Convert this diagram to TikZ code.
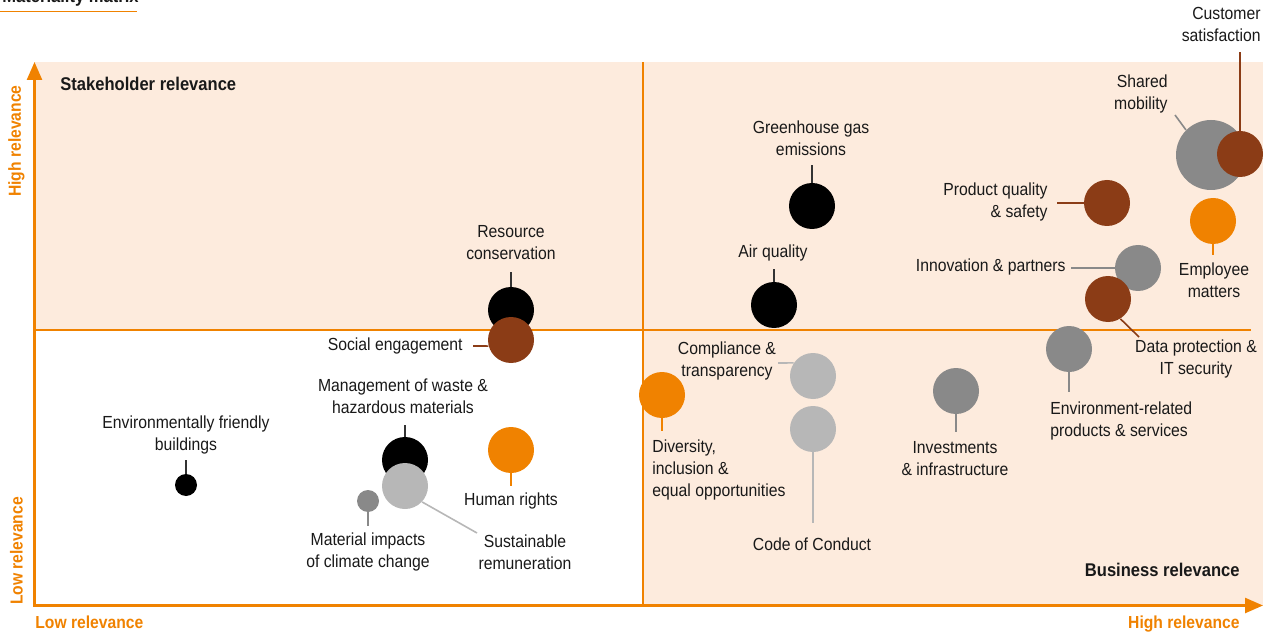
\documentclass[tikz,border=0pt]{standalone}
\usepackage{fontspec}
\setmainfont{Liberation Sans}[FakeStretch=0.9]
\usepackage{xcolor}
\usepackage{tikz}
\usetikzlibrary{arrows.meta}
\definecolor{mxorange}{RGB}{240,130,0}
\definecolor{mxbrown}{RGB}{139,60,22}
\definecolor{mxgray}{RGB}{137,137,137}
\definecolor{mxlight}{RGB}{183,183,183}
\definecolor{mxpeach}{RGB}{253,235,221}

\begin{document}
\begin{tikzpicture}[x=0.5pt,y=-0.5pt,
    bub/.style={circle,inner sep=0pt,minimum size=23pt},
    small/.style={bub,minimum size=11pt},
    ln/.style={line width=0.8pt},
    lab/.style={inner sep=0pt,text=black!90,font=\fontsize{8.75}{11}\selectfont},
    ttl/.style={inner sep=0pt,text=black!90,font=\bfseries\fontsize{9.2}{11}\selectfont},
    axlab/.style={inner sep=0pt,text=mxorange,font=\bfseries\fontsize{8.7}{11}\selectfont},
    axis/.style={mxorange,line width=1.25pt,-{Triangle[length=9pt,width=7.5pt]}},
    mid/.style={mxorange,line width=0.65pt}]
    \useasboundingbox (0,0) rectangle (1274,636);
    \fill[mxpeach] (35,62) rectangle (1263,330);
    \fill[mxpeach] (643,330) rectangle (1263,605);
    \node[ttl,anchor=base west] (ttl) at (2,2.5) {Materiality matrix};
    \draw[mid] (0,11.5) -- (137,11.5);
    \draw[mid] (34.5,330) -- (1251,330);
    \draw[mid] (643,62) -- (643,605.5);
    \draw[axis] (34.5,606.5) -- (34.5,62);
    \draw[axis] (33.5,605.5) -- (1263,605.5);
    \node[ttl,anchor=west] (sh) at (60,84) {Stakeholder relevance};
    \node[ttl,anchor=east] (br) at (1240,570) {Business relevance};
    \node[axlab,rotate=90] (yhi) at (16.5,141) {High relevance};
    \node[axlab,rotate=90] (ylo) at (16.5,551) {Low relevance};
    \node[axlab,anchor=west] (xlo) at (35,622) {Low relevance};
    \node[axlab,anchor=east] (xhi) at (1240,624) {High relevance};

    \node[bub,fill=mxgray,minimum size=35pt] (2) at (1211,155) {};
    \node[bub,fill=mxbrown] (1) at (1240,154) {};
    \node[bub,fill=mxbrown] (3) at (1107,203) {};
    \node[bub,fill=mxorange] (4) at (1213,221) {};
    \node[bub,fill=mxgray] (5) at (1138,268) {};
    \node[bub,fill=mxbrown] (6) at (1108,299) {};
    \node[bub,fill=mxgray] (7) at (1069,349) {};
    \node[bub,fill=black] (8) at (812,206) {};
    \node[bub,fill=black] (9) at (774,305) {};
    \node[bub,fill=black] (10) at (511,310) {};
    \node[bub,fill=mxbrown] (11) at (511,340) {};
    \node[bub,fill=black] (12) at (405,460) {};
    \node[bub,fill=mxlight] (13) at (405,486) {};
    \node[small,fill=mxgray] (14) at (368,501) {};
    \node[bub,fill=mxorange] (15) at (511,450) {};
    \node[small,fill=black] (16) at (186,485) {};
    \node[bub,fill=mxorange] (17) at (662,395) {};
    \node[bub,fill=mxlight] (18) at (813,376) {};
    \node[bub,fill=mxlight] (19) at (813,429) {};
    \node[bub,fill=mxgray] (20) at (956,391) {};

    \node[lab,anchor=east,align=right] (l1) at (1261,24.5) {Customer\\satisfaction};
    \node[lab,anchor=east,align=right] (l2) at (1168,94) {Shared\\mobility};
    \node[lab,anchor=east,align=right] (l3) at (1048,202) {Product quality\\\& safety};
    \node[lab,align=center] (l4) at (1214,280) {Employee\\matters};
    \node[lab,anchor=east] (l5) at (1066,267) {Innovation \& partners};
    \node[lab,align=center] (l6) at (1196,359) {Data protection \&\\IT security};
    \node[lab,anchor=west,align=left] (l7) at (1050,421) {Environment-related\\products \& services};
    \node[lab,align=center] (l8) at (811,138) {Greenhouse gas\\emissions};
    \node[lab] (l9) at (773,253) {Air quality};
    \node[lab,align=center] (l10) at (511,243) {Resource\\conservation};
    \node[lab,anchor=east] (l11) at (463,346) {Social engagement};
    \node[lab,align=center] (l12) at (403,396) {Management of waste \&\\hazardous materials};
    \node[lab,align=center] (l13) at (525,552) {Sustainable\\remuneration};
    \node[lab,align=center] (l14) at (368,552) {Material impacts\\of climate change};
    \node[lab] (l15) at (511,501) {Human rights};
    \node[lab,align=center] (l16) at (186,435) {Environmentally friendly\\buildings};
    \node[lab,anchor=west,align=left] (l17) at (652,470) {Diversity,\\inclusion \&\\equal opportunities};
    \node[lab,align=center] (l18) at (727,361) {Compliance \&\\transparency};
    \node[lab] (l19) at (812,544) {Code of Conduct};
    \node[lab,align=center] (l20) at (955,459) {Investments\\\& infrastructure};

    \coordinate (c1) at (1240,52);
    \coordinate (c2) at (1175,115);
    \coordinate (c3) at (1057,203);
    \coordinate (c4) at (1213,255);
    \coordinate (c5) at (1071,268);
    \coordinate (c6) at (1139,337);
    \coordinate (c7) at (1069,392);
    \coordinate (c8) at (812,165);
    \coordinate (c9) at (774,269);
    \coordinate (c10) at (511,272);
    \coordinate (c11) at (473,346);
    \coordinate (c12) at (405,425);
    \coordinate (c13) at (477,533);
    \coordinate (c14) at (368,526);
    \coordinate (c15) at (511,486);
    \coordinate (c16) at (186,460);
    \coordinate (c17) at (662,431);
    \coordinate (c18) at (778,363);
    \coordinate (c19) at (813,523);
    \coordinate (c20) at (956,432);

    \draw[ln,mxbrown] (1.north) to (c1);
    \draw[ln,mxgray] (2.135) to (c2);
    \draw[ln,mxbrown] (3.west) to (c3);
    \draw[ln,mxorange] (4.south) to (c4);
    \draw[ln,mxgray] (5.west) to (c5);
    \draw[ln,mxbrown] (6.-58) to (c6);
    \draw[ln,mxgray] (7.south) to (c7);
    \draw[ln,black!80] (8.north) to (c8);
    \draw[ln,black!80] (9.north) to (c9);
    \draw[ln,black!80] (10.north) to (c10);
    \draw[ln,mxbrown] (11.195) to (c11);
    \draw[ln,black!80] (12.north) to (c12);
    \draw[ln,mxlight] (13.-43) to (c13);
    \draw[ln,mxgray] (14.south) to (c14);
    \draw[ln,mxorange] (15.south) to (c15);
    \draw[ln,black!80] (16.north) to (c16);
    \draw[ln,mxorange] (17.south) to (c17);
    \draw[ln,mxlight] (18.146) to (c18);
    \draw[ln,mxlight] (19.south) to (c19);
    \draw[ln,mxgray] (20.south) to (c20);
\end{tikzpicture}
\end{document}
